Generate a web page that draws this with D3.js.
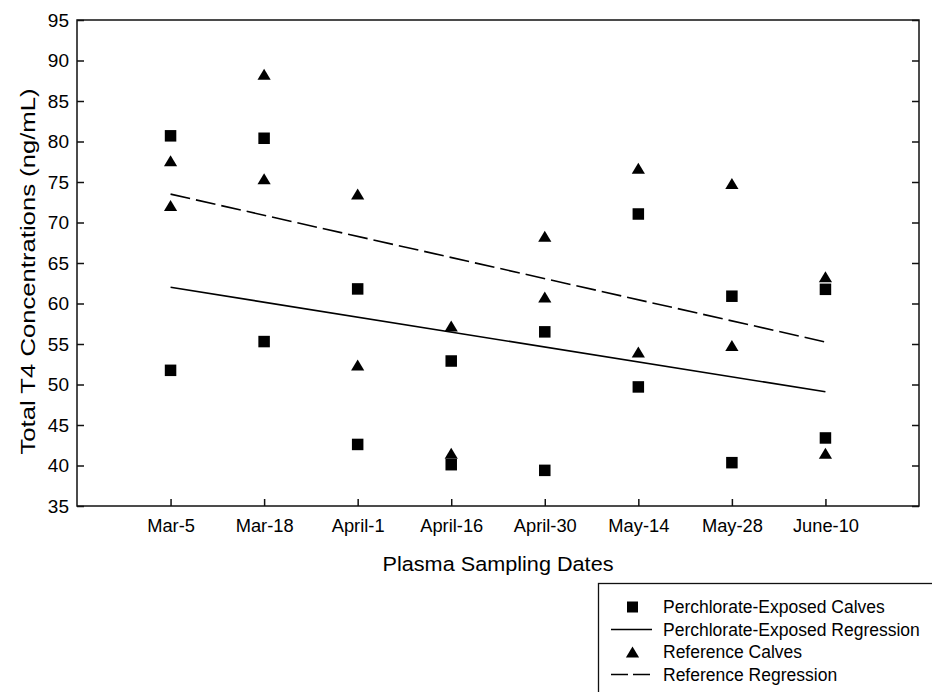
<!DOCTYPE html>
<html>
<head>
<meta charset="utf-8">
<script src="https://cdn.jsdelivr.net/npm/d3@7"></script>
<style>
  html, body { margin: 0; padding: 0; background: #fff; }
  svg { display: block; font-family: Arial, "Liberation Sans", Helvetica, sans-serif; }
</style>
</head>
<body>
<svg id="chart" width="932" height="692"></svg>
<script>
// ---------- data ----------
const categories = ["Mar-5", "Mar-18", "April-1", "April-16", "April-30", "May-14", "May-28", "June-10"];
const yTicks = [35, 40, 45, 50, 55, 60, 65, 70, 75, 80, 85, 90, 95];

// Perchlorate-exposed calves (squares), two animals per date
const perchlorateCalves = [
  [80.7, 51.75],
  [80.4, 55.3],
  [61.8, 42.6],
  [52.9, 40.1],
  [56.5, 39.4],
  [71.05, 49.7],
  [60.9, 40.35],
  [61.75, 43.4]
];
// Reference calves (triangles), two animals per date
const referenceCalves = [
  [77.6, 72.1],
  [88.3, 75.4],
  [73.5, 52.4],
  [57.2, 41.5],
  [68.3, 60.8],
  [76.7, 54.0],
  [74.8, 54.8],
  [63.3, 41.5]
];
// Regression end points (first date, last date)
const perchlorateRegression = [62.0, 49.1];
const referenceRegression = [73.5, 55.25];

const legendLabels = [
  "Perchlorate-Exposed Calves",
  "Perchlorate-Exposed Regression",
  "Reference Calves",
  "Reference Regression"
];

// ---------- layout ----------
const svg = d3.select("#chart");
const plotL = 77, plotR = 919, plotT = 20, plotB = 506;

const x = d3.scaleLinear().domain([0, categories.length + 1]).range([plotL, plotR]);
const y = d3.scaleLinear().domain([35, 95]).range([plotB, plotT]);

// frame
svg.append("rect")
  .attr("x", plotL).attr("y", plotT)
  .attr("width", plotR - plotL).attr("height", plotB - plotT)
  .attr("fill", "none").attr("stroke", "#111").attr("stroke-width", 1.5);

// left axis
const gL = svg.append("g").attr("transform", `translate(${plotL},0)`)
  .call(d3.axisLeft(y).tickValues(yTicks).tickSizeInner(-7).tickSizeOuter(0).tickPadding(8));
// right axis (ticks only)
const gR = svg.append("g").attr("transform", `translate(${plotR},0)`)
  .call(d3.axisRight(y).tickValues(yTicks).tickSizeInner(-7).tickSizeOuter(0).tickFormat(""));
// bottom axis
const gB = svg.append("g").attr("transform", `translate(0,${plotB})`)
  .call(d3.axisBottom(x).tickValues(d3.range(1, categories.length + 1))
    .tickFormat(i => categories[i - 1]).tickSizeInner(-7).tickSizeOuter(0).tickPadding(13));

[gL, gR, gB].forEach(g => {
  g.select(".domain").remove();
  g.selectAll(".tick line").attr("stroke", "#111").attr("stroke-width", 1.5);
  g.selectAll("text").attr("fill", "#000")
    .attr("font-family", "Arial, 'Liberation Sans', sans-serif");
});
gL.selectAll("text").attr("font-size", 19);
gB.selectAll("text").attr("font-size", 18.3);

// axis titles
svg.append("text")
  .attr("x", (plotL + plotR) / 2).attr("y", 571)
  .attr("text-anchor", "middle").attr("font-size", 20.5)
  .attr("textLength", 231).attr("lengthAdjust", "spacingAndGlyphs")
  .text("Plasma Sampling Dates");

svg.append("text")
  .attr("transform", `translate(35,${(88 + 455) / 2}) rotate(-90)`)
  .attr("text-anchor", "middle").attr("font-size", 21)
  .attr("textLength", 366).attr("lengthAdjust", "spacingAndGlyphs")
  .text("Total T4 Concentrations (ng/mL)");

// regression lines
const line = d3.line().x(d => x(d[0])).y(d => y(d[1]));
const regPts = r => [[1, r[0]], [categories.length, r[1]]];

svg.append("path").datum(regPts(perchlorateRegression))
  .attr("d", line).attr("fill", "none").attr("stroke", "#000").attr("stroke-width", 1.6);
svg.append("path").datum(regPts(referenceRegression))
  .attr("d", line).attr("fill", "none").attr("stroke", "#000").attr("stroke-width", 1.6)
  .attr("stroke-dasharray", "20,6");

// markers
const triPath = "M0,-5.6L6.6,5.4L-6.6,5.4Z";
const sq = 11.5;

const flat = (arr) => arr.flatMap((vals, i) => vals.map(v => ({ i: i + 1, v })));

svg.append("g").selectAll("rect").data(flat(perchlorateCalves)).join("rect")
  .attr("x", d => x(d.i) - sq / 2).attr("y", d => y(d.v) - sq / 2)
  .attr("width", sq).attr("height", sq).attr("fill", "#000");

svg.append("g").selectAll("path").data(flat(referenceCalves)).join("path")
  .attr("transform", d => `translate(${x(d.i)},${y(d.v)})`)
  .attr("d", triPath).attr("fill", "#000");

// legend
const lg = svg.append("g");
lg.append("rect").attr("x", 598.5).attr("y", 583.5).attr("width", 400).attr("height", 200)
  .attr("fill", "#fff").attr("stroke", "#111").attr("stroke-width", 1.3);

const rowY = [607, 629.5, 652, 674.5];
const symX = 632.5, lineX0 = 611, lineX1 = 652, textX = 663;

lg.append("rect").attr("x", symX - 5.5).attr("y", rowY[0] - 5.5)
  .attr("width", 11).attr("height", 11).attr("fill", "#000");
lg.append("line").attr("x1", lineX0).attr("x2", lineX1).attr("y1", rowY[1]).attr("y2", rowY[1])
  .attr("stroke", "#000").attr("stroke-width", 1.6);
lg.append("path").attr("transform", `translate(${symX},${rowY[2]})`).attr("d", triPath).attr("fill", "#000");
lg.append("line").attr("x1", lineX0).attr("x2", lineX1).attr("y1", rowY[3]).attr("y2", rowY[3])
  .attr("stroke", "#000").attr("stroke-width", 1.6).attr("stroke-dasharray", "17,5");

lg.selectAll("text.lbl").data(legendLabels).join("text").attr("class", "lbl")
  .attr("x", textX).attr("y", (d, i) => rowY[i]).attr("dy", "0.36em")
  .attr("font-size", 17.5).attr("fill", "#000")
  .text(d => d);
</script>
</body>
</html>
